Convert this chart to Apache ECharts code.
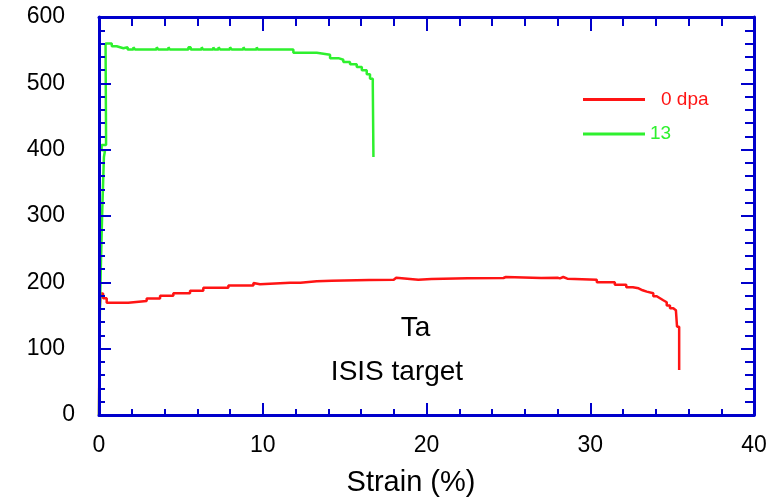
<!DOCTYPE html>
<html>
<head>
<meta charset="utf-8">
<script src="https://cdn.jsdelivr.net/npm/echarts@6/dist/echarts.min.js"></script>
<style>
  html, body { margin: 0; padding: 0; background: #ffffff; }
  #chart { width: 769px; height: 502px; }
</style>
</head>
<body>
<div id="chart"></div>
<script>
// Tensile curves of Ta: engineering stress vs strain, stepped as recorded.
const seriesNames = ['0 dpa', '13'];

// [strain %, stress] for the unirradiated specimen
const curve0dpa = [
  [0, 0], [0.04, 160], [0.1, 183], [0.25, 176], [0.47, 169.2],
  [1.79, 171.7], [2.91, 175.7], [3.73, 179.7], [4.54, 183.7], [5.56, 187.2],
  [6.37, 191.7], [7.9, 195.3], [9.43, 199], [9.53, 197], [9.83, 199.3],
  [11.67, 199.5], [12.3, 201.5], [13.3, 202.5], [14.2, 203.5], [16.5, 204],
  [18.0, 207], [18.15, 204], [19.5, 205], [20.3, 206], [22.5, 206.5],
  [24.7, 208], [24.85, 206.5], [27.0, 207], [28.0, 206], [28.15, 208],
  [28.35, 205.5], [28.6, 204], [30.4, 200], [31.5, 196.5], [32.2, 192.5],
  [32.6, 191], [32.95, 188], [33.2, 186], [33.45, 183.5], [33.85, 179],
  [34.06, 176], [34.26, 173], [34.46, 170], [34.67, 165], [34.87, 161],
  [35.07, 158], [35.23, 155.5], [35.3, 133], [35.43, 130.6], [35.43, 67.8]
];

// [strain %, stress] for the specimen irradiated to 13 dpa
const curve13dpa = [
  [0, 0], [0.05, 150], [0.12, 232], [0.2, 310], [0.3, 389], [0.37, 399],
  [0.16, 407], [0.43, 422], [0.4, 560], [0.78, 556], [1.08, 553], [1.49, 551],
  [1.59, 554.5], [1.75, 551], [2.1, 554.5], [2.2, 551], [3.52, 554.5], [3.62, 551],
  [4.24, 554.5], [4.32, 551], [5.46, 554.5], [5.6, 551], [6.27, 554.5], [6.35, 551],
  [6.98, 554.5], [7.05, 551], [7.3, 554.5], [7.4, 551], [7.7, 554], [7.8, 551],
  [8.0, 554.5], [8.1, 551], [8.4, 554], [8.5, 551], [8.82, 554.5], [8.9, 551],
  [9.2, 554], [9.3, 551], [9.63, 554.5], [9.7, 551], [9.94, 553], [10.05, 551],
  [11.87, 546], [13.3, 543], [14.11, 538], [14.62, 535.6], [14.92, 532],
  [15.33, 528.6], [15.74, 524.6], [16.05, 519.6], [16.35, 513.6], [16.55, 507],
  [16.72, 497], [16.76, 389]
];

const strainRange = [0, 40];
const strainStep = 10;
const stressRange = [0, 600];
const stressStep = 100;
const xTitle = 'Strain (%)';
const notes = ['Ta', 'ISIS target'];

const FONT = '"Liberation Sans", Arial, Helvetica, sans-serif';
const AXIS_BLUE = '#0000cc';
const RED = '#ff1414';
const GREEN = '#2ef02e';

function frameAxis(position, major, minor, extra) {
  return Object.assign({
    type: 'value',
    position: position,
    z: 5,
    axisLine: { show: true, onZero: false, lineStyle: { color: AXIS_BLUE, width: 3 } },
    axisTick: { show: true, inside: true, length: major, lineStyle: { color: AXIS_BLUE, width: 2 } },
    minorTick: { show: true, splitNumber: 5, length: minor, lineStyle: { color: AXIS_BLUE, width: 2 } },
    splitLine: { show: false },
    minorSplitLine: { show: false },
    axisLabel: { show: false }
  }, extra);
}

const xBase = { min: strainRange[0], max: strainRange[1], interval: strainStep };
const yBase = { min: stressRange[0], max: stressRange[1], interval: stressStep };

const chart = echarts.init(document.getElementById('chart'), null, { renderer: 'canvas' });

chart.setOption({
  animation: false,
  backgroundColor: '#ffffff',
  grid: { left: 99, right: 15, top: 17, bottom: 87, containLabel: false, outerBoundsMode: 'none' },
  xAxis: [
    frameAxis('bottom', 12, 6, Object.assign({}, xBase, {
      axisLabel: { show: true, color: '#000', fontSize: 23, fontFamily: FONT, margin: 19 },
      name: xTitle,
      nameLocation: 'middle',
      nameGap: 53,
      nameTextStyle: { color: '#000', fontSize: 29, fontFamily: FONT, padding: [0, 31, 0, 0] }
    })),
    frameAxis('top', 14, 9, xBase)
  ],
  yAxis: [
    frameAxis('left', 12, 6, Object.assign({}, yBase, {
      axisLabel: {
        show: true,
        margin: 24,
        formatter: v => (v === 0 ? '{z|0}' : '{n|' + v + '}'),
        rich: {
          n: { color: '#000', fontSize: 23, fontFamily: FONT, padding: [0, 10, 0, 0] },
          z: { color: '#000', fontSize: 23, fontFamily: FONT }
        }
      }
    })),
    frameAxis('right', 13, 9, yBase)
  ],
  legend: {
    orient: 'vertical',
    left: 578,
    top: 85,
    itemWidth: 62,
    itemHeight: 3,
    itemGap: 15.6,
    icon: 'rect',
    selectedMode: false,
    data: seriesNames,
    formatter: name => (name === seriesNames[0] ? '{a|' + name + '}' : '{b|' + name + '}'),
    textStyle: {
      fontSize: 19,
      fontFamily: FONT,
      rich: {
        a: { color: RED, fontSize: 19, fontFamily: FONT, padding: [0, 0, 0, 11] },
        b: { color: GREEN, fontSize: 19, fontFamily: FONT }
      }
    }
  },
  graphic: [
    {
      type: 'text',
      style: { text: notes[0], x: 415.5, y: 328.5, textAlign: 'center', textVerticalAlign: 'middle',
               fill: '#000', font: '28px ' + FONT }
    },
    {
      type: 'text',
      style: { text: notes[1], x: 397, y: 372.5, textAlign: 'center', textVerticalAlign: 'middle',
               fill: '#000', font: '28px ' + FONT }
    }
  ],
  series: [
    {
      name: seriesNames[0],
      type: 'line',
      step: 'end',
      data: curve0dpa,
      symbol: 'none',
      z: 2,
      itemStyle: { color: RED },
      lineStyle: { color: RED, width: 2.5 }
    },
    {
      name: seriesNames[1],
      type: 'line',
      step: 'end',
      data: curve13dpa,
      symbol: 'none',
      z: 2,
      itemStyle: { color: GREEN },
      lineStyle: { color: GREEN, width: 2.5 }
    }
  ]
});
</script>
</body>
</html>
